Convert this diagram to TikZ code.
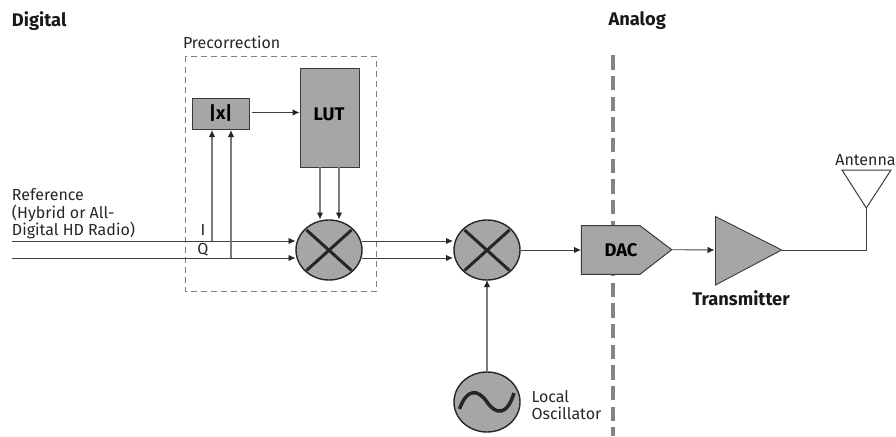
\documentclass[tikz,border=0pt]{standalone}
\usepackage{fontspec}
\setmainfont{Fira Sans}
\usetikzlibrary{arrows.meta,shapes.geometric}
\definecolor{blockgray}{HTML}{A6A6A6}
\definecolor{edgegray}{HTML}{3A3A3A}
\definecolor{wiregray}{HTML}{404040}
\definecolor{vertgray}{HTML}{7A7A7A}
\definecolor{divgray}{HTML}{858585}
\tikzset{
  x=1pt,y=-1pt,
  block/.style={draw=edgegray,fill=blockgray,line width=1pt,inner sep=0pt,outer sep=0pt},
  mixer/.style={draw=black!85,fill=blockgray,line width=1.4pt,shape=ellipse,minimum width=66pt,minimum height=60pt,inner sep=0pt,outer sep=0pt},
  wire/.style={draw=wiregray,line width=0.9pt,-{Latex[length=7pt,width=6.5pt,black!85]}},
  vwire/.style={draw=vertgray,line width=1.1pt,-{Latex[length=7pt,width=6.5pt,black!85]}},
  plainwire/.style={draw=wiregray,line width=0.9pt},
  cross/.style={draw=black!85,line width=3pt},
  lbl/.style={inner sep=0pt,outer sep=0pt,font=\fontsize{16}{17.5}\selectfont,text=black!85},
  head/.style={inner sep=0pt,outer sep=0pt,font=\fontsize{18.3}{20}\selectfont\bfseries,text=black!90},
  blockfont/.style={inner sep=0pt,font=\fontsize{18.3}{20}\selectfont\bfseries},
}
\begin{document}
\begin{tikzpicture}
\useasboundingbox (0,0) rectangle (896,436);
% divider
\draw[divgray,line width=3.8pt,dash pattern=on 14.3pt off 6.37pt] (613,55.3) -- (613,436);
% precorrection box
\draw[draw=gray,line width=0.8pt,dash pattern=on 6pt off 4pt] (185,56.5) rectangle (376.5,291);
% blocks
\node[block,blockfont,minimum width=56.5pt,minimum height=31pt] (abs) at (220.75,113.5) {|x|};
\node[block,minimum width=59pt,minimum height=98.5pt] (lut) at (329.5,117.75) {};
\node[blockfont] (lutlab) at (329,114.5) {LUT};
\node[mixer] (m1) at (329,250) {};
\node[mixer] (m2) at (487,250) {};
\node[mixer] (osc) at (487,402) {};
\draw[cross] (306.5,230) -- (351.5,270.5) (351.5,230) -- (306.5,270.5);
\draw[cross] (464.5,230) -- (509.5,270.5) (509.5,230) -- (464.5,270.5);
\draw[black!85,line width=3.5pt] (459.5,409) .. controls (467,388) and (478,389) .. (487,402) .. controls (496,415) and (507,416) .. (514,393);
% DAC
\draw[block] (581.3,225.7) -- (640,225.7) -- (671.7,249.7) coordinate (dacT) -- (640,274.3) -- (581.3,274.3) -- cycle;
\coordinate (dacL) at (581,250);
\node[blockfont] (dac) at (621,250) {DAC};
% transmitter
\draw[draw=edgegray,fill=blockgray,line width=0.9pt] (715.5,216.5) -- (781.7,250) coordinate (txT) -- (715.5,285) -- cycle;
\coordinate (txL) at (714.5,250);
% antenna
\draw[draw=edgegray,line width=1pt] (842,170) -- (891,170) -- (866.3,208) coordinate (antB) -- cycle;
% wires
\coordinate (iS) at (12,241); \coordinate (qS) at (12,258);
\coordinate (m1i) at (295.5,241); \coordinate (m1q) at (295.5,258);
\coordinate (m1io) at (362,241); \coordinate (m1qo) at (362,258);
\coordinate (m2i) at (453,241); \coordinate (m2q) at (453,258);
\draw[wire] (iS) -- (m1i);
\draw[wire] (qS) -- (m1q);
\draw[vwire] (212,241) -- (212,130);
\draw[vwire] (231,258) -- (231,130);
\draw[vwire] (320,167) -- (320,219.5);
\draw[vwire] (339,167) -- (339,219.5);
\draw[wire] (252,112.5) -- (299.5,112.5);
\draw[wire] (m1io) -- (m2i);
\draw[wire] (m1qo) -- (m2q);
\draw[wire] (520.5,250) -- (dacL);
\draw[wire] (dacT) -- (txL);
\draw[vwire] (osc.north) -- (m2.south);
\draw[plainwire] (txT) -- (866.3,250) -- (antB);
% labels
\node[head,anchor=west] (dig) at (12,21) {Digital};
\node[head,anchor=west] (ana) at (608.5,21) {Analog};
\node[lbl,anchor=west] (pre) at (183,42) {Precorrection};
\node[lbl,anchor=north west,align=left] (ref) at (12,188.5) {Reference\\(Hybrid or All-\\Digital HD Radio)};
\node[lbl,anchor=center] (ilab) at (203,230) {I};
\node[lbl,anchor=center] (qlab) at (203,250) {Q};
\node[lbl,anchor=west,align=left] (lo) at (531.5,405) {Local\\Oscillator};
\node[head,anchor=center] (tx) at (741,298) {Transmitter};
\node[lbl,anchor=center] (ant) at (865.5,160) {Antenna};
\end{tikzpicture}
\end{document}
